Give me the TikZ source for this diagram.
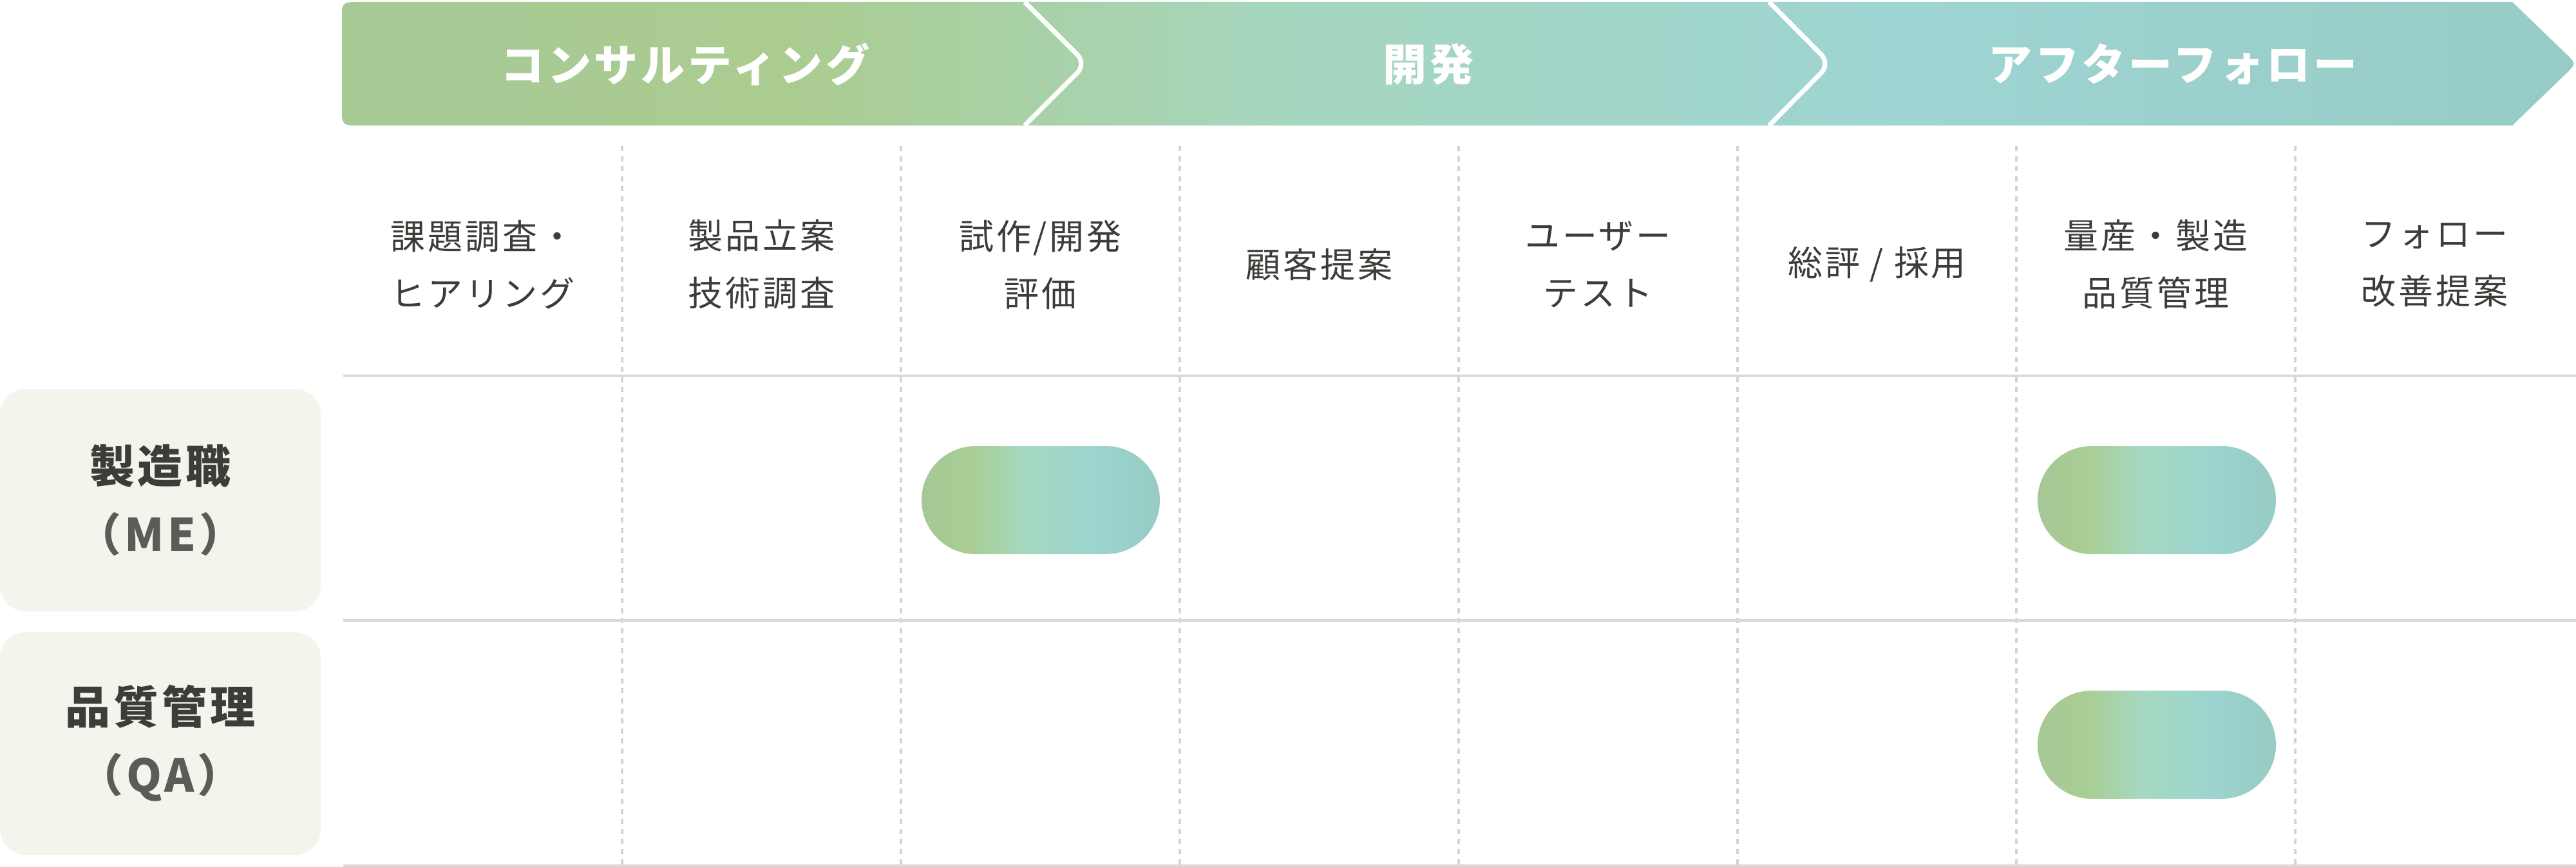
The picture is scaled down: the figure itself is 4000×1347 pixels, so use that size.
\documentclass[tikz,border=0pt]{standalone}
\usepackage{fontspec}
\setmainfont{Noto Sans CJK JP}
\newfontfamily\spacedfont{Noto Sans CJK JP}[LetterSpace=7]
\usepackage{tikz}
\definecolor{inkdark}{HTML}{3A3D38}
\definecolor{inkgray}{HTML}{595C57}
\definecolor{rolefill}{HTML}{F4F4EC}
\definecolor{gridgray}{HTML}{D9D9D9}
\definecolor{dashgray}{HTML}{D4D4D4}
\definecolor{bnA}{HTML}{A6C996}
\definecolor{bnB}{HTML}{ABCC90}
\definecolor{bnC}{HTML}{A5D6BE}
\definecolor{bnD}{HTML}{9ED4D2}
\definecolor{bnE}{HTML}{97CBC5}
\definecolor{plA}{HTML}{A5C897}
\definecolor{plB}{HTML}{A9CD92}
\definecolor{plC}{HTML}{A5D9C2}
\definecolor{plD}{HTML}{9DD4CF}
\definecolor{plE}{HTML}{97CBC4}
\pgfdeclarehorizontalshading{bannershade}{100bp}{color(0bp)=(bnA); color(25bp)=(bnA); color(35bp)=(bnB); color(46bp)=(bnC); color(60bp)=(bnD); color(75bp)=(bnE); color(100bp)=(bnE)}
\pgfdeclarehorizontalshading{pillshade}{100bp}{color(0bp)=(plA); color(25bp)=(plA); color(35bp)=(plB); color(47bp)=(plC); color(61bp)=(plD); color(75bp)=(plE); color(100bp)=(plE)}

\begin{document}
\begin{tikzpicture}[x=0.25pt, y=-0.25pt,
    phasetext/.style={text=white, font=\spacedfont\bfseries\fontsize{17pt}{20pt}\selectfont},
    chevron/.style={draw=white, line width=1.8pt, rounded corners=5pt},
    colhead/.style={text=inkdark, align=center, inner sep=0pt, font=\spacedfont\fontsize{13.5pt}{22.25pt}\selectfont},
    rolebox/.style={fill=rolefill, text=inkdark, rounded corners=10pt, minimum width=124.5pt, minimum height=86.5pt, align=center, inner sep=0pt, font=\spacedfont\bfseries\fontsize{17.5pt}{26.5pt}\selectfont},
    pill/.style={shade, shading=pillshade, rounded corners=21pt, minimum width=92.5pt, minimum height=42pt, inner sep=0pt},
    rowline/.style={draw=gridgray, line width=1pt},
    colsep/.style={draw=dashgray, line width=0.9pt, dash pattern=on 2pt off 1.9pt}]
    \useasboundingbox (0,0) rectangle (4000,1347);

    % Phase banner
    \shade[shading=bannershade] (559,3) -- (3901,3) -- (3986,85) .. controls (4000,99) .. (3986,113)
        -- (3901,195) -- (559,195) .. controls (531,195) .. (531,167) -- (531,31) .. controls (531,3) .. (559,3) -- cycle;
    \draw[chevron] (1591,3) -- (1687,99) -- (1591,195);
    \draw[chevron] (2747,3) -- (2842,99) -- (2747,195);

    \node[phasetext] (consult) at (1064,100) {コンサルティング};
    \node[phasetext] (develop) at (2218,100) {開発};
    \node[phasetext] (after) at (3374,100) {アフターフォロー};

    % Grid
    \draw[colsep] (966,227) -- (966,1347);
    \draw[colsep] (1399,227) -- (1399,1347);
    \draw[colsep] (1832,227) -- (1832,1347);
    \draw[colsep] (2265,227) -- (2265,1347);
    \draw[colsep] (2698,227) -- (2698,1347);
    \draw[colsep] (3131,227) -- (3131,1347);
    \draw[colsep] (3564,227) -- (3564,1347);

    \draw[rowline] (533,584) -- (4000,584);
    \draw[rowline] (533,964) -- (4000,964);
    \draw[rowline] (533,1345) -- (4000,1345);

    % Column headings
    \node[colhead] (kadai) at (749.5,411) {課題調査・\\ヒアリング};
    \node[colhead] (seihin) at (1182.5,411) {製品立案\\技術調査};
    \node[colhead] (shisaku) at (1615.5,411) {試作/開発\\評価};
    \node[colhead] (teian) at (2048.5,411) {顧客提案};
    \node[colhead] (usertest) at (2481.5,411) {ユーザー\\テスト};
    \node[colhead] (sohyo) at (2914.5,411) {総評 / 採用};
    \node[colhead] (ryosan) at (3347.5,411) {量産・製造\\品質管理};
    \node[colhead] (follow) at (3780.5,411) {フォロー\\改善提案};

    % Roles
    \node[rolebox] (me) at (249,777) {製造職\\{\color{inkgray}（ME）}};
    \node[rolebox] (qa) at (249,1155) {品質管理\\{\color{inkgray}（QA）}};

    % Involvement
    \node[pill] (me-shisaku) at (1616,777) {};
    \node[pill] (me-ryosan) at (3349,777) {};
    \node[pill] (qa-ryosan) at (3349,1157) {};
\end{tikzpicture}
\end{document}
